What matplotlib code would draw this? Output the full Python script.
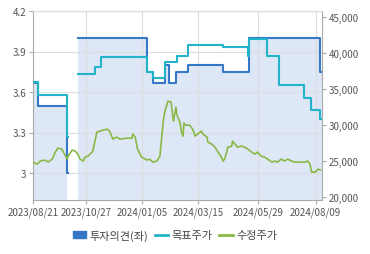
import matplotlib
matplotlib.use("Agg")
import matplotlib.pyplot as plt
import matplotlib.dates as mdates
from matplotlib.patches import Patch
from matplotlib.lines import Line2D
import numpy as np
import pandas as pd

plt.rcParams['font.family'] = ['Noto Sans CJK KR', 'DejaVu Sans']

# 투자의견 (left axis), step changes
opinion_dates = ['2023-08-21', '2023-08-27', '2023-10-03', '2023-10-04', '2023-10-16',
                 '2024-01-11', '2024-01-18', '2024-02-02', '2024-02-07', '2024-02-16',
                 '2024-03-02', '2024-04-15', '2024-05-17', '2024-08-15', '2024-08-17']
opinion_vals = [3.67, 3.5, 3.0, np.nan, 4.0,
                3.75, 3.67, 3.8, 3.67, 3.75,
                3.8, 3.75, 4.0, 3.75, 3.75]

# 목표주가 (right axis), step changes
target_dates = ['2023-08-21', '2023-08-27', '2023-10-03', '2023-10-04', '2023-10-16',
                '2023-11-07', '2023-11-14', '2024-01-11', '2024-01-18', '2024-02-02',
                '2024-02-17', '2024-03-02', '2024-04-15', '2024-05-16', '2024-05-17',
                '2024-06-09', '2024-06-24', '2024-07-25', '2024-08-03', '2024-08-15',
                '2024-08-17']
target_vals = [36000, 34200, 28300, np.nan, 37100,
               38050, 39500, 37360, 36500, 38750,
               39580, 41100, 40850, 39600, 42000,
               39600, 35600, 33750, 32100, 30800,
               30800]

# 수정주가 (right axis)
price_dates = ['2023-08-21', '2023-08-26', '2023-08-30', '2023-09-05', '2023-09-09',
               '2023-09-14', '2023-09-18', '2023-09-21', '2023-09-26', '2023-09-28',
               '2023-10-03', '2023-10-04', '2023-10-09', '2023-10-13', '2023-10-16',
               '2023-10-19', '2023-10-23', '2023-10-25', '2023-10-29', '2023-11-04',
               '2023-11-09', '2023-11-13', '2023-11-17', '2023-11-22', '2023-11-25',
               '2023-11-29', '2023-12-04', '2023-12-08', '2023-12-17', '2023-12-23',
               '2023-12-24', '2023-12-27', '2023-12-30', '2024-01-04', '2024-01-11',
               '2024-01-14', '2024-01-18', '2024-01-23', '2024-01-27', '2024-01-31',
               '2024-02-02', '2024-02-06', '2024-02-10', '2024-02-12', '2024-02-13',
               '2024-02-16', '2024-02-17', '2024-02-21', '2024-02-23', '2024-02-25',
               '2024-02-26', '2024-02-28', '2024-03-04', '2024-03-08', '2024-03-11',
               '2024-03-14', '2024-03-19', '2024-03-21', '2024-03-26', '2024-03-27',
               '2024-04-01', '2024-04-05', '2024-04-08', '2024-04-13', '2024-04-15',
               '2024-04-17', '2024-04-20', '2024-04-21', '2024-04-26', '2024-04-27',
               '2024-04-30', '2024-05-03', '2024-05-08', '2024-05-12', '2024-05-16',
               '2024-05-21', '2024-05-25', '2024-05-28', '2024-06-02', '2024-06-06',
               '2024-06-10', '2024-06-15', '2024-06-19', '2024-06-22', '2024-06-27',
               '2024-07-01', '2024-07-05', '2024-07-10', '2024-07-14', '2024-07-18',
               '2024-07-23', '2024-07-26', '2024-07-30', '2024-08-02', '2024-08-04',
               '2024-08-08', '2024-08-10', '2024-08-12', '2024-08-15']
price_vals = [24850, 24580, 25000, 25140, 24860,
              25280, 26250, 26800, 26670, 26250,
              25280, 25690, 26530, 26390, 25970,
              25280, 25000, 25560, 25690, 26390,
              29030, 29170, 29310, 29440, 29170,
              28060, 28330, 28060, 28190, 28190,
              28750, 28330, 26670, 25560, 25140,
              25280, 24860, 25000, 25690, 30420,
              31810, 33330, 33190, 31250, 30560,
              32500, 31530, 30420, 29030, 28470,
              30280, 30000, 30000, 29440, 28470,
              28750, 29170, 28750, 28330, 27640,
              27360, 26940, 26390, 25560, 25000,
              25280, 26390, 26940, 27080, 27780,
              27360, 26940, 27080, 26940, 26670,
              26250, 25970, 26250, 25690, 25560,
              25280, 24860, 25000, 24860, 25280,
              25000, 25280, 25000, 24860, 24860,
              24860, 24860, 25000, 24580, 23470,
              23470, 23610, 23890, 23750]

xtick_dates = ['2023-08-21', '2023-10-27', '2024-01-05', '2024-03-15', '2024-05-29', '2024-08-09']
left_ticks = [3.0, 3.3, 3.6, 3.9, 4.2]
left_labels = ['3', '3.3', '3.6', '3.9', '4.2']
right_ticks = [20000, 25000, 30000, 35000, 40000, 45000]

c_op = '#3578c8'
c_tg = '#22b4c8'
c_pr = '#8ab847'
c_fill = '#dde7f6'
c_axis = '#aaaaaa'
c_grid = '#dddddd'
c_text = '#555555'

od = pd.to_datetime(opinion_dates)
ov = np.array(opinion_vals)
td = pd.to_datetime(target_dates)
tv = np.array(target_vals)
pdts = pd.to_datetime(price_dates)
pv = np.array(price_vals)

fig = plt.figure(figsize=(3.7, 2.55), dpi=100)
ax = fig.add_axes([33/370, 1-201/255, (322-33)/370, (201-12)/255])
ax2 = ax.twinx()

ax.fill_between(od, 2.8, ov, step='post', color=c_fill, lw=0, zorder=1)
ax.plot(od, ov, drawstyle='steps-post', color=c_op, lw=1.5, zorder=2)
ax2.plot(td, tv, drawstyle='steps-post', color=c_tg, lw=1.5)
ax2.plot(pdts, pv, color=c_pr, lw=1.2)

ax.set_xlim(pd.Timestamp('2023-08-21'), pd.Timestamp('2024-08-17'))
ax.set_ylim(2.8, 4.2)
ax2.set_ylim(19600, 45850)

ax.set_axisbelow('line')
ax.grid(True, color=c_grid, lw=0.8)
ax.set_yticks(left_ticks)
ax.set_yticklabels(left_labels)
ax.set_xticks(pd.to_datetime(xtick_dates))
ax.xaxis.set_major_formatter(mdates.DateFormatter('%Y/%m/%d'))
ax2.set_yticks(right_ticks)
ax2.set_yticklabels([f'{v:,}' for v in right_ticks])

for a in (ax, ax2):
    a.tick_params(colors=c_axis, labelcolor=c_text, labelsize=7, length=3, width=0.8, pad=2)
    for s in a.spines.values():
        s.set_color(c_axis)
        s.set_linewidth(0.8)
    a.spines['top'].set_color(c_grid)
ax.spines['right'].set_visible(False)
ax2.spines['left'].set_visible(False)
ax2.spines['bottom'].set_visible(False)

handles = [Patch(color=c_op), Line2D([], [], color=c_tg, lw=2), Line2D([], [], color=c_pr, lw=2)]
labels = ['투자의견(좌)', '목표주가', '수정주가']
fig.legend(handles, labels, loc='center', bbox_to_anchor=(175/370, 1-236/255), ncol=3,
           frameon=False, fontsize=8, labelcolor='#444444', handlelength=1.2,
           handletextpad=0.3, columnspacing=0.6)

fig.savefig('out.png', dpi=100)
